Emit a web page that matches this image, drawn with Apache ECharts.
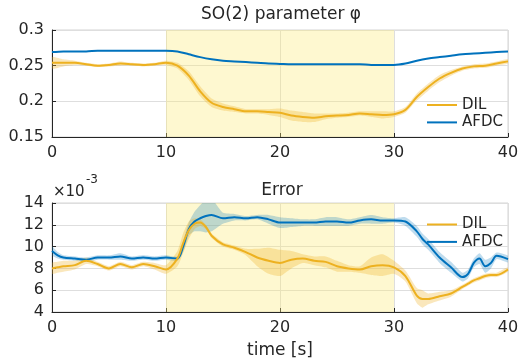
<!DOCTYPE html>
<html>
<head>
<meta charset="utf-8">
<script src="https://cdn.jsdelivr.net/npm/echarts@6/dist/echarts.min.js"></script>
<style>
  html, body { margin: 0; padding: 0; background: #fff; }
  #chart { width: 522px; height: 360px; }
</style>
</head>
<body>
<div id="chart"></div>
<script>
// top plot: SO(2) parameter phi, sampled every second
const tPhi = [0,1,2,3,4,5,6,7,8,9,10,11,12,13,14,15,16,17,18,19,20,
  21,22,23,24,25,26,27,28,29,30,31,32,33,34,35,36,37,38,39,40];
const dilPhi = [0.254,0.254,0.254,0.252,0.250,0.251,0.253,0.252,0.251,0.252,0.254,
  0.250,0.236,0.214,0.198,0.192,0.189,0.186,0.186,0.185,0.184,
  0.180,0.178,0.177,0.179,0.180,0.181,0.183,0.182,0.181,0.182,
  0.188,0.206,0.220,0.232,0.240,0.246,0.249,0.250,0.253,0.256];
const dilPhiSpread = [0.008,0.005,0.003,0.002,0.002,0.002,0.003,0.002,0.002,0.002,0.003,
  0.004,0.006,0.007,0.006,0.005,0.004,0.003,0.003,0.004,0.006,
  0.007,0.007,0.006,0.004,0.003,0.003,0.003,0.004,0.005,0.004,
  0.004,0.005,0.005,0.005,0.004,0.003,0.003,0.003,0.003,0.003];
const afdcPhi = [0.269,0.270,0.270,0.270,0.271,0.271,0.271,0.271,0.271,0.271,0.271,
  0.270,0.266,0.262,0.259,0.257,0.256,0.255,0.254,0.253,0.2525,
  0.252,0.252,0.252,0.252,0.252,0.252,0.252,0.251,0.251,0.251,
  0.253,0.257,0.260,0.262,0.264,0.266,0.267,0.268,0.269,0.270];

// bottom plot: error (x 1e-3)
const tErr = [0,0.5,1,2,3,4,5,6,7,8,9,10,11,11.5,12,12.5,13,13.5,14,15,16,17,18,19,20,
  21,22,23,24,25,26,27,28,29,30,31,32,32.5,33,34,35,36,36.5,37,37.5,38,38.5,39,40];
const dilErr = [8.0,8.1,8.2,8.3,8.7,8.4,8.0,8.4,8.1,8.4,8.2,7.9,8.9,10.3,11.5,12.1,12.2,11.8,11.0,10.2,9.9,9.5,9.0,8.7,8.5,
  8.8,8.9,8.7,8.6,8.2,8.0,7.9,8.2,8.3,8.1,7.3,5.5,5.2,5.2,5.45,5.7,6.3,6.6,6.9,7.1,7.3,7.4,7.4,7.9];
const dilErrSpread = [0.5,0.5,0.5,0.4,0.3,0.2,0.2,0.2,0.2,0.2,0.3,0.4,0.7,0.9,0.8,0.5,0.3,0.2,0.2,0.2,0.2,0.3,0.8,1.2,1.2,
  0.8,0.4,0.4,0.5,0.5,0.3,0.3,0.8,1.0,0.6,0.5,0.7,0.8,0.5,0.4,0.3,0.2,0.2,0.2,0.2,0.2,0.2,0.2,0.2];
const afdcErr = [9.6,9.2,9.0,8.9,8.8,9.0,9.0,9.1,8.9,9.0,8.9,9.0,8.9,10.0,11.6,12.3,12.6,12.8,12.9,12.6,12.7,12.6,12.7,12.5,12.2,
  12.2,12.2,12.2,12.3,12.3,12.2,12.4,12.5,12.4,12.4,12.3,11.4,10.7,10.2,9.0,8.1,7.2,7.5,8.5,8.9,8.2,8.5,9.15,8.85];
const afdcErrSpread = [0.4,0.3,0.2,0.2,0.2,0.2,0.2,0.3,0.2,0.2,0.2,0.2,0.2,0.5,0.6,0.9,1.2,1.5,1.5,0.5,0.3,0.2,0.2,0.4,0.5,
  0.4,0.3,0.3,0.4,0.4,0.3,0.3,0.4,0.3,0.2,0.4,0.5,0.5,0.5,0.5,0.5,0.4,0.4,0.4,0.5,0.6,0.5,0.3,0.3];

const shadeRange = [10, 30];

const DIL_COLOR = '#EDB120';
const AFDC_COLOR = '#0072BD';
const TEXT = '#262626';
const FONT = 'DejaVu Sans';

const pairs = (t, v) => t.map((x, i) => [x, v[i]]);

// yellow 10-30 s window, hosted on an invisible line below everything
function shade(t, v, idx) {
  return {
    name: 'shade' + idx, type: 'line', xAxisIndex: idx, yAxisIndex: idx,
    symbol: 'none', silent: true, z: 1,
    lineStyle: { opacity: 0 },
    data: pairs(t, v),
    markArea: {
      silent: true,
      itemStyle: { color: 'rgba(253,235,120,0.35)' },
      data: [[{ xAxis: shadeRange[0] }, { xAxis: shadeRange[1] }]]
    }
  };
}

// spread band drawn as one polygon: upper edge forward, lower edge back
function band(name, t, mean, spread, idx, fill) {
  return {
    name: name, type: 'custom', xAxisIndex: idx, yAxisIndex: idx,
    silent: true, z: 2, clip: true,
    encode: { x: 0, y: [1, 2] },
    data: t.map((x, i) => [x, mean[i] - spread[i], mean[i] + spread[i]]),
    renderItem: function (params, api) {
      if (params.dataIndex !== 0) return null;
      const pts = [];
      for (let i = 0; i < t.length; i++) pts.push(api.coord([t[i], mean[i] + spread[i]]));
      for (let i = t.length - 1; i >= 0; i--) pts.push(api.coord([t[i], mean[i] - spread[i]]));
      return {
        type: 'polygon',
        shape: { points: pts, smooth: 0.2 },
        style: { fill: fill }
      };
    }
  };
}

function mainLine(name, t, v, idx, color) {
  return {
    name: name, type: 'line', xAxisIndex: idx, yAxisIndex: idx,
    symbol: 'none', smooth: 0.3, z: 3,
    lineStyle: { color: color, width: 2 },
    itemStyle: { color: color },
    data: pairs(t, v)
  };
}

const axisCommon = {
  axisLine: { show: true, lineStyle: { color: TEXT, width: 1 } },
  axisTick: { show: true, inside: true, length: 4, lineStyle: { color: TEXT } },
  axisLabel: { color: TEXT, fontFamily: FONT, fontSize: 16 },
  splitLine: { show: true, lineStyle: { color: '#dedede', width: 1 } }
};

const legendCommon = {
  orient: 'vertical', left: 422, itemGap: 2.4,
  icon: 'path://M0,0H30V2H0Z', itemWidth: 30, itemHeight: 2,
  textStyle: { color: TEXT, fontFamily: FONT, fontSize: 15, lineHeight: 15 },
  data: ['DIL', 'AFDC']
};

const chart = echarts.init(document.getElementById('chart'));
chart.setOption({
  animation: false,
  backgroundColor: '#fff',
  grid: [
    { left: 52, right: 14, top: 30, height: 107, show: true, borderColor: '#d4d4d4', borderWidth: 1, backgroundColor: 'transparent' },
    { left: 52, right: 14, top: 203, height: 110, show: true, borderColor: '#d4d4d4', borderWidth: 1, backgroundColor: 'transparent' }
  ],
  xAxis: [
    Object.assign({}, axisCommon, { gridIndex: 0, type: 'value', min: 0, max: 40, interval: 10,
      axisLabel: Object.assign({}, axisCommon.axisLabel, { margin: 8 }) }),
    Object.assign({}, axisCommon, { gridIndex: 1, type: 'value', min: 0, max: 40, interval: 10,
      axisLabel: Object.assign({}, axisCommon.axisLabel, { margin: 8 }),
      name: 'time [s]', nameLocation: 'middle', nameGap: 30,
      nameTextStyle: { color: TEXT, fontFamily: FONT, fontSize: 17 } })
  ],
  yAxis: [
    Object.assign({}, axisCommon, { gridIndex: 0, type: 'value', min: 0.15, max: 0.3, interval: 0.05,
      axisLabel: Object.assign({}, axisCommon.axisLabel, { margin: 8 }) }),
    Object.assign({}, axisCommon, { gridIndex: 1, type: 'value', min: 4, max: 14, interval: 2,
      axisLabel: Object.assign({}, axisCommon.axisLabel, { margin: 8 }) })
  ],
  legend: [
    Object.assign({}, legendCommon, { top: 92.5 }),
    Object.assign({}, legendCommon, { top: 212 })
  ],
  graphic: [
    { type: 'text', x: 281, y: 15, style: { text: 'SO(2) parameter φ', fill: TEXT, font: '17px "DejaVu Sans"', align: 'center', verticalAlign: 'middle' } },
    { type: 'text', x: 282, y: 191, style: { text: 'Error', fill: TEXT, font: '17px "DejaVu Sans"', align: 'center', verticalAlign: 'middle' } },
    { type: 'text', x: 53, y: 192.5, style: { text: '×10', fill: TEXT, font: '15px "DejaVu Sans"', align: 'left', verticalAlign: 'middle' } },
    { type: 'text', x: 86, y: 180, style: { text: '-3', fill: TEXT, font: '12px "DejaVu Sans"', align: 'left', verticalAlign: 'middle' } }
  ],
  series: [
    shade(tPhi, dilPhi, 0),
    band('dilPhiBand', tPhi, dilPhi, dilPhiSpread, 0, 'rgba(237,177,32,0.3)'),
    mainLine('AFDC', tPhi, afdcPhi, 0, AFDC_COLOR),
    mainLine('DIL', tPhi, dilPhi, 0, DIL_COLOR),
    shade(tErr, dilErr, 1),
    band('afdcErrBand', tErr, afdcErr, afdcErrSpread, 1, 'rgba(0,114,189,0.25)'),
    band('dilErrBand', tErr, dilErr, dilErrSpread, 1, 'rgba(237,177,32,0.3)'),
    mainLine('AFDC', tErr, afdcErr, 1, AFDC_COLOR),
    mainLine('DIL', tErr, dilErr, 1, DIL_COLOR)
  ]
});
</script>
</body>
</html>
